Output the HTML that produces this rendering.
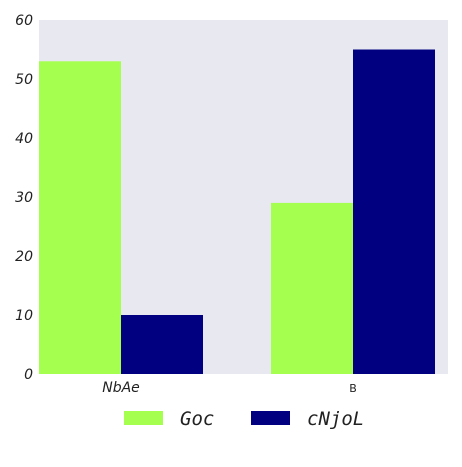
<!DOCTYPE html>
<html><head><meta charset="utf-8"><style>
body{margin:0;background:#fff;width:462px;height:462px;overflow:hidden}
svg text{font-family:"DejaVu Sans",sans-serif}
</style></head><body>
<svg id="c" width="462" height="462">
<rect x="39" y="20" width="409" height="354" fill="#e8e8f1"/>
<g id="bars"></g><g id="ticks"></g>
<g>
<rect x="124" y="411" width="39" height="14" fill="#a5ff4f"/>
<text x="180" y="425" font-size="19" font-style="italic" style="font-family:'DejaVu Sans Mono',monospace" fill="#222">Goc</text>
<rect x="251" y="411" width="39" height="14" fill="#000080"/>
<text x="307" y="425" font-size="19" font-style="italic" style="font-family:'DejaVu Sans Mono',monospace" fill="#222">cNjoL</text>
</g>
</svg>
<script>
const categories=["NbAe","B"];
const gocValues=[53,29];
const cnjolValues=[10,55];
const yTicks=[0,10,20,30,40,50,60];
const NS="http://www.w3.org/2000/svg";
const y=v=>374-v*(354/60);
const cx=i=>121+i*232;
const bw=82;
const bars=document.getElementById('bars'),ticks=document.getElementById('ticks');
function mk(t,a){const e=document.createElementNS(NS,t);for(const k in a)e.setAttribute(k,a[k]);return e;}
categories.forEach((c,i)=>{
  const r1=mk('rect',{x:cx(i)-bw,y:y(gocValues[i]),width:bw,height:y(0)-y(gocValues[i]),fill:'#a5ff4f'});
  
  
  bars.appendChild(r1);
  const r2=mk('rect',{x:cx(i),y:y(cnjolValues[i]),width:bw,height:y(0)-y(cnjolValues[i]),fill:'#000080'});
  
  
  bars.appendChild(r2);
  const t=mk('text',{x:cx(i),y:392,'text-anchor':'middle','font-size':i==0?14:11,'font-style':i==0?'italic':'normal',fill:'#222'});
  t.textContent=c;
  
  
  ticks.appendChild(t);
});
yTicks.forEach(v=>{
  const t=mk('text',{x:33,y:y(v)+5,'text-anchor':'end','font-size':14,'font-style':'italic',fill:'#222'});
  t.textContent=v;
  
  
  ticks.appendChild(t);
});
</script>
</body></html>
